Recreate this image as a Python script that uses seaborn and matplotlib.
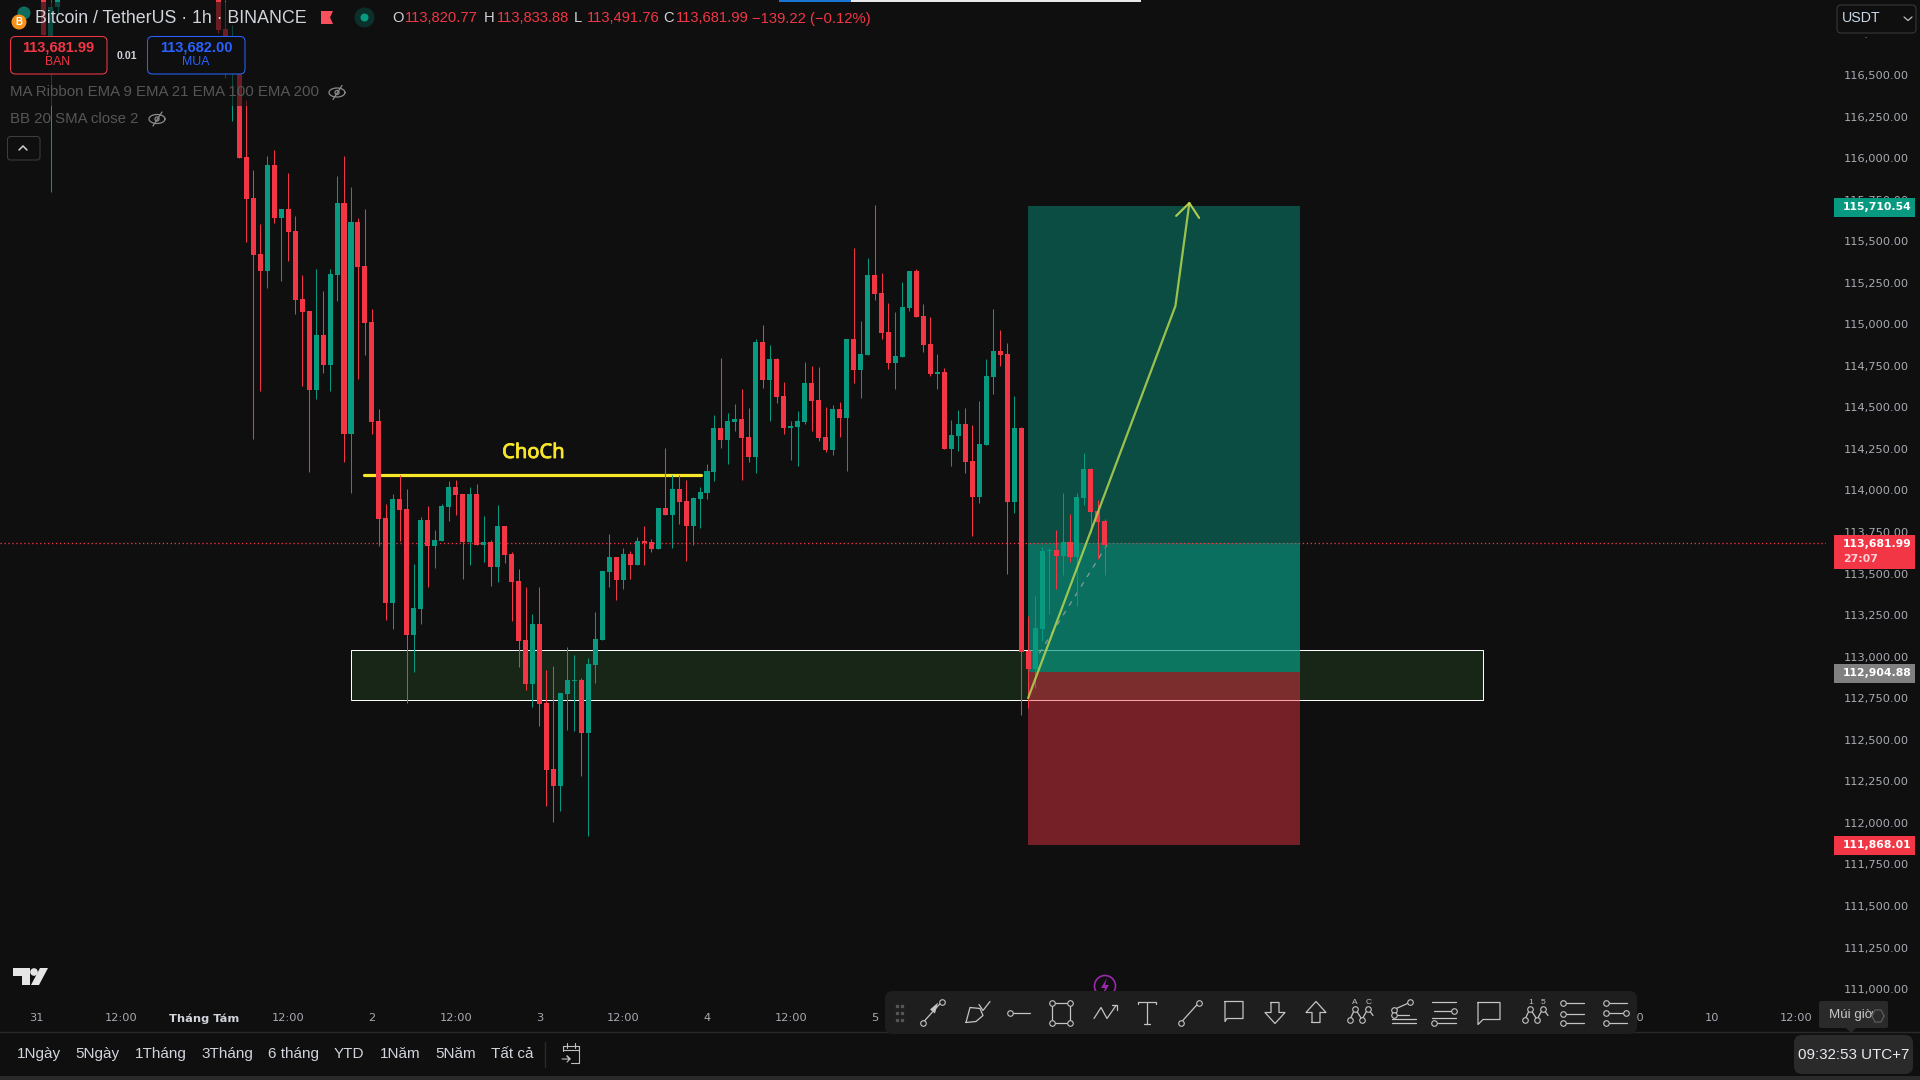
import matplotlib
matplotlib.use("Agg")
import numpy as np
import pandas as pd
import matplotlib.pyplot as plt
import matplotlib.patheffects as pe
import seaborn as sns
from matplotlib.patches import Rectangle, FancyBboxPatch, Polygon, Circle

# candles. bar 0 is the red candle under the buy badge
bars = [-28, -27, -26, -3, -2, -1] + list(range(0, 125))
direction = list(
    "rggrrg"
    "rrrrgrgrrr"  # 0-9
    "rgrggrgrrr"  # 10-19
    "rrgrrggrgg"  # 20-29
    "grrgrgrgrr"  # 30-39
    "rrgrrrgggr"  # 40-49
    "ggggrgrgrr"  # 50-59
    "grgrrggggr"  # 60-69
    "ggrrgrgrrg"  # 70-79
    "ggrrrgrgrg"  # 80-89
    "grrrgggrrr"  # 90-99
    "grggrrgggr"  # 100-109
    "rgrrgggrgr"  # 110-119
    "ggrrr"       # 120-124
)
body_top = [
    117011, 116909, 116981, 117072, 116777, 116710,
    116650, 116007, 115760, 115423, 115959, 115959, 115694, 115694, 115562, 115153,
    115080, 114936, 114936, 115303, 115730, 115730, 115616, 115616, 115351, 115014,
    114418, 113835, 113949, 113949, 113889, 113293, 113823, 113823, 113702, 113907,
    114021, 114021, 113979, 113979, 113979, 113690, 113690, 113786, 113786, 113618,
    113455, 113100, 113197, 113197, 112721, 112324, 112781, 112860, 112860, 112860,
    112956, 113106, 113516, 113600, 113600, 113618, 113618, 113696, 113696, 113690,
    113895, 113895, 114009, 114009, 113937, 113955, 113991, 114117, 114376, 114376,
    114418, 114430, 114430, 114322, 114893, 114893, 114791, 114791, 114568, 114388,
    114418, 114647, 114647, 114544, 114322, 114490, 114490, 114911, 114911, 114821,
    115296, 115296, 115188, 114953, 114809, 115104, 115321, 115321, 115050, 114881,
    114713, 114713, 114334, 114400, 114400, 114177, 114279, 114689, 114839, 114839,
    114821, 114376, 114376, 113034, 113172, 113636, 113642, 113642, 113690, 113690,
    113961, 114129, 114129, 113877, 113816,
]
body_bottom = [
    116741, 116735, 116909, 116771, 116735, 116530,
    116003, 115754, 115417, 115321, 115321, 115640, 115640, 115556, 115147, 115074,
    114605, 114605, 114755, 114755, 115297, 114340, 114340, 115345, 115008, 114412,
    113829, 113323, 113323, 113883, 113131, 113131, 113287, 113666, 113666, 113696,
    113901, 113973, 113690, 113690, 113672, 113672, 113540, 113540, 113612, 113449,
    113094, 112836, 112836, 112715, 112318, 112222, 112222, 112775, 112854, 112541,
    112541, 112950, 113100, 113510, 113462, 113462, 113552, 113552, 113684, 113648,
    113648, 113853, 113853, 113931, 113786, 113786, 113949, 113985, 114111, 114304,
    114304, 114412, 114316, 114201, 114201, 114665, 114665, 114562, 114376, 114376,
    114382, 114412, 114538, 114316, 114243, 114243, 114436, 114436, 114725, 114725,
    114815, 115182, 114947, 114767, 114767, 114803, 115098, 115044, 114875, 114701,
    114701, 114249, 114249, 114328, 114171, 113960, 113960, 114273, 114683, 114815,
    113930, 113930, 113028, 112926, 112926, 113166, 113636, 113606, 113606, 113600,
    113600, 113955, 113871, 113810, 113672,
]
wick_high = [
    117050, 116950, 117000, 117132, 116951, 116800,
    116680, 116350, 115928, 115604, 116013, 116049, 115694, 115910, 115652, 115297,
    115080, 115333, 115200, 115333, 115892, 116013, 115826, 115640, 115694, 115092,
    114490, 113919, 113979, 114093, 114009, 113558, 113841, 113907, 113762, 113919,
    114057, 114063, 113979, 114021, 114039, 113847, 113702, 113913, 113786, 113630,
    113528, 113419, 113257, 113419, 112920, 112944, 112781, 113058, 113010, 112872,
    112992, 113269, 113516, 113738, 113600, 113654, 113636, 113720, 113786, 113708,
    113895, 114256, 114093, 114093, 114063, 113961, 114021, 114159, 114454, 114797,
    114466, 114520, 114610, 114496, 114911, 114996, 114875, 114797, 114653, 114418,
    114478, 114773, 114749, 114743, 114502, 114514, 114532, 114911, 115459, 115020,
    115399, 115718, 115308, 115128, 115074, 115254, 115321, 115333, 115122, 115044,
    114821, 114737, 114424, 114484, 114496, 114394, 114538, 114791, 115092, 114965,
    114887, 114568, 114382, 113245, 113365, 113660, 113654, 113762, 113985, 113859,
    113985, 114226, 114135, 113943, 113828,
]
wick_low = [
    116741, 115796, 116873, 116753, 116482, 116225,
    116003, 115495, 114310, 114599, 115219, 115610, 115261, 115381, 115063, 114629,
    114112, 114551, 114707, 114599, 115140, 114171, 113985, 114671, 114815, 114340,
    113666, 113221, 113167, 113696, 112721, 112908, 113197, 113419, 113534, 113696,
    113817, 113853, 113468, 113552, 113672, 113570, 113425, 113449, 113564, 113215,
    112938, 112800, 112697, 112583, 112101, 112005, 112071, 112559, 112553, 112282,
    111921, 112842, 113100, 113419, 113341, 113407, 113468, 113552, 113552, 113630,
    113648, 113853, 113654, 113798, 113576, 113672, 113774, 113949, 114057, 114255,
    114159, 114358, 114063, 114171, 114105, 114616, 114418, 114526, 114340, 114183,
    114147, 114400, 114358, 114297, 114231, 114213, 114322, 114117, 114647, 114556,
    114815, 115146, 114911, 114731, 114610, 114803, 115080, 115044, 114833, 114689,
    114610, 114249, 114147, 114237, 114105, 113726, 113924, 114273, 114580, 114749,
    113497, 113864, 112649, 112691, 112811, 113094, 113257, 113407, 113491, 113570,
    113305, 113913, 113744, 113588, 113491,
]

price_ticks = list(range(111000, 116751, 250))
time_ticks = list(range(-29, 224, 12))
time_labels = ["31", "12:00", "Tháng Tám", "12:00", "2", "12:00", "3", "12:00", "4", "12:00", "5",
               "12:00", "6", "12:00", "7", "12:00", "8", "12:00", "9", "12:00", "10", "12:00"]

last_price = 113681.99
target_price = 115710.54
entry_price = 112904.88
stop_price = 111868.01
box_bars = [113, 152]
zone_bars = [16.06, 178.2]
zone_prices = [112737, 113038]
choch_bars = [17.9, 66.2]
choch_price = 114095
arrow_bars = [113, 134.1, 136.1]
arrow_prices = [112751, 115110, 115730]
barb_bars = [134.2, 136.1, 137.5]
barb_prices = [115652, 115730, 115640]
proj_bars = [114.6, 124.3]
proj_prices = [113020, 113672]

range_labels = ["1Ngày", "5Ngày", "1Tháng", "3Tháng", "6 tháng", "YTD", "1Năm", "5Năm", "Tất cả"]
range_x = [17, 75, 135, 201, 268, 334, 380, 435, 491]

BG = "#0f0f0f"
UP = "#089981"
DOWN = "#f23645"
TXT = "#d1d4dc"

sns.set_theme(style="dark", rc={"axes.facecolor": BG, "figure.facecolor": BG})
plt.rcParams["font.family"] = ["Liberation Sans", "DejaVu Sans"]

df = pd.DataFrame({"bar": bars, "dir": direction, "top": body_top, "bottom": body_bottom,
                   "high": wick_high, "low": wick_low})
df["height"] = df["top"] - df["bottom"]

fig = plt.figure(figsize=(19.2, 10.8), dpi=100)
ax = fig.add_axes([0, 1 - 1001 / 1080, 1826 / 1920, 1001 / 1080])

# zone and long position box sit under the candles
ax.add_patch(Rectangle((zone_bars[0], zone_prices[0]), zone_bars[1] - zone_bars[0], zone_prices[1] - zone_prices[0],
                       facecolor=(76 / 255, 175 / 255, 80 / 255, 0.15), edgecolor="white", lw=0.72, zorder=1))
ax.add_patch(Rectangle((box_bars[0], last_price), box_bars[1] - box_bars[0], target_price - last_price,
                       facecolor=UP, alpha=0.45, lw=0, zorder=2))
ax.add_patch(Rectangle((box_bars[0], entry_price), box_bars[1] - box_bars[0], last_price - entry_price,
                       facecolor=UP, alpha=0.7, lw=0, zorder=2))
ax.add_patch(Rectangle((box_bars[0], stop_price), box_bars[1] - box_bars[0], entry_price - stop_price,
                       facecolor=DOWN, alpha=0.45, lw=0, zorder=2))
ax.axhline(last_price, color=DOWN, lw=0.95, ls=(0, (1, 2)), zorder=3)

sns.lineplot(x=choch_bars, y=[choch_price, choch_price], color="#f7e62a", lw=2.3, ax=ax, zorder=3)
sns.lineplot(x=proj_bars, y=proj_prices, color="#8a9a94", lw=0.9, ls=(0, (4, 5)), ax=ax, zorder=3)

colors = [UP if d == "g" else DOWN for d in df["dir"]]
ax.vlines(df["bar"], df["low"], df["high"], colors=colors, lw=0.75, zorder=4)
for d, c in (("g", UP), ("r", DOWN)):
    sub = df[df["dir"] == d].sort_values("bar")
    sns.barplot(x=sub["bar"].values, y=sub["height"].values, bottom=sub["bottom"].values,
                native_scale=True, width=0.72, gap=0, color=c, saturation=1, errorbar=None,
                linewidth=0, ax=ax, zorder=4)

sns.lineplot(x=arrow_bars, y=arrow_prices, sort=False, estimator=None, color="#b5d650", alpha=0.85, lw=1.6, ax=ax, zorder=5)
sns.lineplot(x=barb_bars, y=barb_prices, sort=False, estimator=None, color="#c3dc50", alpha=0.9, lw=1.5, ax=ax, zorder=5)

ax.set_xlim(-34.28, 227.3)
ax.set_ylim(116500 - 926 * 6.017, 116500 + 75 * 6.017)
ax.yaxis.tick_right()
ax.set_yticks(price_ticks)
ax.set_yticklabels([f"{v:,.2f}" for v in price_ticks])
ax.set_xticks(time_ticks)
ax.set_xticklabels(time_labels)
ax.set_xlabel("")
ax.set_ylabel("")
ax.tick_params(axis="y", length=0, pad=13, labelsize=8.2, labelcolor="#a8abb3", labelfontfamily="DejaVu Sans")
ax.tick_params(axis="x", length=0, pad=8.8, labelsize=8.2, labelcolor="#a8abb3", labelfontfamily="DejaVu Sans")
for lab in ax.get_xticklabels():
    if lab.get_text() == "Tháng Tám":
        lab.set_fontweight("bold")
        lab.set_color(TXT)
ax.grid(False)
sns.despine(ax=ax, left=True, bottom=True, right=True, top=True)

# everything else is screen furniture, drawn in pixel coordinates
ui = fig.add_axes([0, 0, 1, 1], facecolor="none")
ui.set_xlim(0, 1920)
ui.set_ylim(1080, 0)
ui.axis("off")


def box(x0, y0, x1, y1, fc, ec="none", r=0.0, lw=0.75, z=10, alpha=None):
    style = f"round,pad=0,rounding_size={r}" if r else "square,pad=0"
    ui.add_patch(FancyBboxPatch((x0, y0), x1 - x0, y1 - y0, boxstyle=style, fc=fc, ec=ec, lw=lw, zorder=z, alpha=alpha))


def txt(x, y, s, color=TXT, size=10, ha="left", weight="normal", family=None, z=12):
    return ui.text(x, y, s, color=color, fontsize=size, ha=ha, va="center", fontweight=weight, zorder=z,
                   family=family if family else ["Liberation Sans", "DejaVu Sans"])


# legend backdrop dims candles under the header rows
box(0, 2, 880, 36, BG, alpha=0.6, z=9)
box(0, 73, 340, 106, BG, alpha=0.6, z=9)

# top strip
ui.add_patch(Rectangle((779, 0), 72, 2, fc="#1976d2", lw=0, zorder=10))
ui.add_patch(Rectangle((851, 0), 290, 2, fc="#e8e8e8", lw=0, zorder=10))

# header
ui.add_patch(Circle((24, 13), 6.5, fc="#0f6d5f", lw=0, zorder=11))
ui.add_patch(Circle((19, 22), 7.5, fc="#f7931a", lw=0, zorder=12))
txt(19, 22, "B", color="white", size=7, ha="center", weight="bold", z=13)
txt(35, 18.5, "Bitcoin / TetherUS · 1h · BINANCE", size=12.8)
ui.add_patch(Polygon([[321, 11], [333, 11], [330, 17.5], [333, 24], [321, 24]], fc="#f8505c", lw=0, zorder=12))
ui.add_patch(Circle((364.5, 17.5), 10, fc="#0b2f2a", lw=0, zorder=11))
ui.add_patch(Circle((364.5, 17.5), 4, fc=UP, lw=0, zorder=12))
for x, letter, val in ((392, "O", "113,820.77"), (484, "H", "113,833.88"), (574, "L", "113,491.76"), (663, "C", "113,681.99")):
    txt(x, 18.5, letter, size=10.6)
    txt(x + 12.5, 18.5, val, color=DOWN, size=10.6)
txt(752.5, 18.5, "−139.22 (−0.12%)", color=DOWN, size=10.6)

# buy and sell badges
box(10.5, 36.5, 107, 74, BG, ec=DOWN, r=5)
txt(58.5, 48, "113,681.99", color=DOWN, size=10.5, ha="center", weight="bold")
txt(58, 62, "BAN", color=DOWN, size=8.8, ha="center")
txt(127, 56, "0.01", color=TXT, size=7.6, ha="center", weight="bold")
box(147.5, 36.5, 245, 74, BG, ec="#2962ff", r=5)
txt(196, 48, "113,682.00", color="#2962ff", size=10.5, ha="center", weight="bold")
txt(196, 62, "MUA", color="#2962ff", size=8.8, ha="center")

# indicator rows
txt(10, 92.5, "MA Ribbon EMA 9 EMA 21 EMA 100 EMA 200", color="#565656", size=10.8)
txt(10, 119, "BB 20 SMA close 2", color="#565656", size=10.8)
for cx, cy in ((337, 92.5), (157, 119)):
    t = np.linspace(0, 2 * np.pi, 40)
    ui.plot(cx + 8 * np.cos(t), cy + 4.5 * np.sin(t), color="#8c8c8c", lw=0.9, zorder=12)
    ui.plot([cx - 4, cx + 5], [cy + 7, cy - 7], color="#8c8c8c", lw=0.9, zorder=12)
    ui.add_patch(Circle((cx, cy), 2, fc="none", ec="#8c8c8c", lw=0.9, zorder=12))
box(7.5, 136.5, 40, 160, BG, ec="#3d3d3d", r=3)
ui.plot([19, 23, 27], [150, 146, 150], color="#d0d0d0", lw=1.1, zorder=12)

# usdt selector, the scale's top tick is hidden behind it
ui.add_patch(Rectangle((1826, 0), 94, 37, fc=BG, lw=0, zorder=9))
box(1837, 5, 1916, 33, BG, ec="#3a3a3a", r=4)
txt(1842, 18, "USDT", color="#c8d8ea", size=10.2)
ui.plot([1904, 1908, 1912], [17, 20.5, 17], color="#c0c0c0", lw=0.9, zorder=12)

# price scale badges
for y0, y1, fc, s, yt in ((198, 217, UP, "115,710.54", 207.5), (535, 569, DOWN, "113,681.99", 544),
                          (664, 683, "#808080", "112,904.88", 673.5), (836, 855, DOWN, "111,868.01", 845.5)):
    ui.add_patch(Rectangle((1834, y0), 81, y1 - y0, fc=fc, lw=0, zorder=10))
    txt(1843, yt, s, color="white", size=7.8, weight="bold", family="DejaVu Sans")
txt(1843, 559, "27:07", color="#ffd0d4", size=7.8, weight="bold", family="DejaVu Sans")

# tradingview mark
ui.add_patch(Polygon([[13, 968], [30, 968], [30, 985], [22, 985], [22, 976], [13, 976]], fc="#e6e6e6", lw=0, zorder=11))
ui.add_patch(Circle((34, 972), 3.8, fc="#e6e6e6", lw=0, zorder=11))
ui.add_patch(Polygon([[40, 968], [48, 968], [39, 985], [31, 985]], fc="#e6e6e6", lw=0, zorder=11))

# bottom bar
ui.plot([0, 1920], [1032, 1032], color="#2a2a2a", lw=1, zorder=8)
ui.add_patch(Rectangle((0, 1076), 1920, 4, fc="#2a2a2a", lw=0, zorder=8))
for x, s in zip(range_x, range_labels):
    txt(x, 1054, s, size=11)
ui.plot([545, 545], [1042, 1067], color="#2a2a2a", lw=1, zorder=8)
ui.plot([563, 563, 579, 579], [1051, 1046, 1046, 1051], color="#bfbfbf", lw=0.8, zorder=12)
ui.plot([563, 579], [1050, 1050], color="#bfbfbf", lw=0.8, zorder=12)
ui.plot([579, 579, 571], [1050, 1063, 1063], color="#bfbfbf", lw=0.8, zorder=12)
ui.plot([562, 570, 567, 570, 567], [1059, 1059, 1056, 1059, 1062], color="#bfbfbf", lw=0.8, zorder=12)
for x in (567, 575):
    ui.plot([x, x], [1043, 1048], color="#bfbfbf", lw=0.8, zorder=12)

# session clock and timezone tooltip
box(1794, 1035, 1913, 1074, "#2a2a2a", r=8)
txt(1853.5, 1055, "09:32:53 UTC+7", color="#e8eaf0", size=10.9, ha="center")
box(1819, 1001, 1888, 1028, "#2a2a2a", r=2)
ui.add_patch(Polygon([[1846, 1028], [1856, 1028], [1851, 1033]], fc="#2a2a2a", lw=0, zorder=10))
txt(1851, 1015, "Múi giờ", color="#c8c8c8", size=9.6, ha="center")
hex_t = np.linspace(0, 2 * np.pi, 7)
ui.plot(1878 + 6 * np.cos(hex_t), 1016 + 7 * np.sin(hex_t), color="#5a5a5a", lw=0.9, zorder=11)

# lightning badge peeking over the toolbar
ui.add_patch(Circle((1105, 986), 10.5, fc=BG, ec="#9c27b0", lw=1.2, zorder=9))
ui.add_patch(Polygon([[1107, 978], [1101, 988], [1105, 988], [1103, 995], [1109, 985], [1105, 985]], fc="#9c27b0", lw=0, zorder=9))

# drawing toolbar
TB = "#1e1e1e"
box(885, 991, 1637, 1034, TB, r=8, z=10)
for dx in (0, 5):
    for dy in (-7, 0, 7):
        ui.plot(896.5 + dx, 1012.5 + dy, "s", color="#555555", ms=1.4, zorder=12)

ICON = "#c4c4c4"


def lines(cx, *paths):
    for p in paths:
        a = np.array(p, dtype=float)
        ui.plot(cx + a[:, 0], 1012.5 + a[:, 1], color=ICON, lw=0.9, zorder=12)


def nodes(cx, *pts):
    for px, py in pts:
        ui.plot(cx + px, 1012.5 + py, "o", mfc=TB, mec=ICON, mew=0.8, ms=4, zorder=13)


icon_x = [933, 978, 1019, 1061, 1105, 1147, 1190, 1233, 1275, 1316, 1361, 1404, 1444, 1489, 1536, 1573, 1616]
cx = icon_x[0]
lines(cx, [(-10, 10), (9, -11)])
nodes(cx, (-10, 10), (9, -11))
ui.add_patch(Polygon([[cx + 5, 1012.5 - 10], [cx + 2, 1012.5 + 1], [cx - 3, 1012.5 - 3]], fc=ICON, lw=0, zorder=12))
cx = icon_x[1]
lines(cx, [(-12, 10), (-8, -5), (2, -4), (5, 3), (-2, 9), (-12, 10)], [(1, -8), (5, -2), (12, -11)])
cx = icon_x[2]
lines(cx, [(-7, 0), (11, 0)])
nodes(cx, (-9, 0))
cx = icon_x[3]
lines(cx, [(-9, -10), (9, -10), (9, 10), (-9, 10), (-9, -10)])
nodes(cx, (-9, -10), (9, -10), (9, 10), (-9, 10))
cx = icon_x[4]
lines(cx, [(-11, 6), (-4, -5), (2, 6), (11, -7)], [(7, -8), (12, -8), (12, -3)])
cx = icon_x[5]
lines(cx, [(-9, -9), (-9, -11), (9, -11), (9, -9)], [(0, -11), (0, 11)], [(-3, 11), (3, 11)])
cx = icon_x[6]
lines(cx, [(-9, 10), (9, -10)])
nodes(cx, (-9, 10), (9, -10))
cx = icon_x[7]
lines(cx, [(-8, -11), (10, -11), (10, 6), (-6, 6), (-8, 9), (-8, -11)])
cx = icon_x[8]
lines(cx, [(-4, -10), (4, -10), (4, 0), (10, 0), (0, 11), (-10, 0), (-4, 0), (-4, -10)])
cx = icon_x[9]
lines(cx, [(-4, 10), (4, 10), (4, 0), (10, 0), (0, -11), (-10, 0), (-4, 0), (-4, 10)])
cx = icon_x[10]
lines(cx, [(-11, 7), (-6, -4), (1, 7), (7, -4), (12, 3)])
nodes(cx, (-11, 7), (-6, -4), (1, 7), (7, -4))
ui.text(cx - 6, 1002, "A", color=ICON, fontsize=6, ha="center", va="center", zorder=13)
ui.text(cx + 8, 1002, "C", color=ICON, fontsize=6, ha="center", va="center", zorder=13)
cx = icon_x[11]
lines(cx, [(-10, -3), (8, -11)], [(-10, -3), (-10, 2)], [(-12, 6), (12, 6)], [(-12, 10), (12, 10)], [(-12, 2), (5, 2)])
nodes(cx, (-10, -3), (6, -11), (-10, 2))
cx = icon_x[12]
lines(cx, [(-12, -11), (12, -11)], [(-10, -2), (9, -2)], [(-8, 10), (12, 10)], [(-12, 5), (12, 5)])
nodes(cx, (10, -2), (-10, 10))
cx = icon_x[13]
lines(cx, [(-11, -10), (11, -10), (11, 7), (-6, 7), (-11, 12), (-11, -10)])
cx = icon_x[14]
lines(cx, [(-11, 7), (-6, -4), (1, 7), (7, -4), (12, 3)])
nodes(cx, (-11, 7), (-6, -4), (1, 7), (7, -4))
ui.text(cx - 5, 1002, "1", color=ICON, fontsize=6, ha="center", va="center", zorder=13)
ui.text(cx + 7, 1002, "5", color=ICON, fontsize=6, ha="center", va="center", zorder=13)
cx = icon_x[15]
lines(cx, [(-8, -10), (11, -10)], [(-8, 1), (11, 1)], [(-8, 10), (11, 10)])
nodes(cx, (-10, -10), (-10, 1), (-10, 10))
cx = icon_x[16]
lines(cx, [(-8, -10), (11, -10)], [(-8, 0), (11, 0)], [(-8, 10), (11, 10)])
nodes(cx, (-10, -10), (-10, 0), (-10, 10), (10, 0))

# chart label above the choch line
lab = txt(533.5, 453, "ChoCh", color="#f7e62a", size=14.5, ha="center", family="Noto Sans", z=6)
lab.set_path_effects([pe.withStroke(linewidth=0.6, foreground="#f7e62a")])

fig.savefig("out.png", dpi=100, facecolor=BG)
